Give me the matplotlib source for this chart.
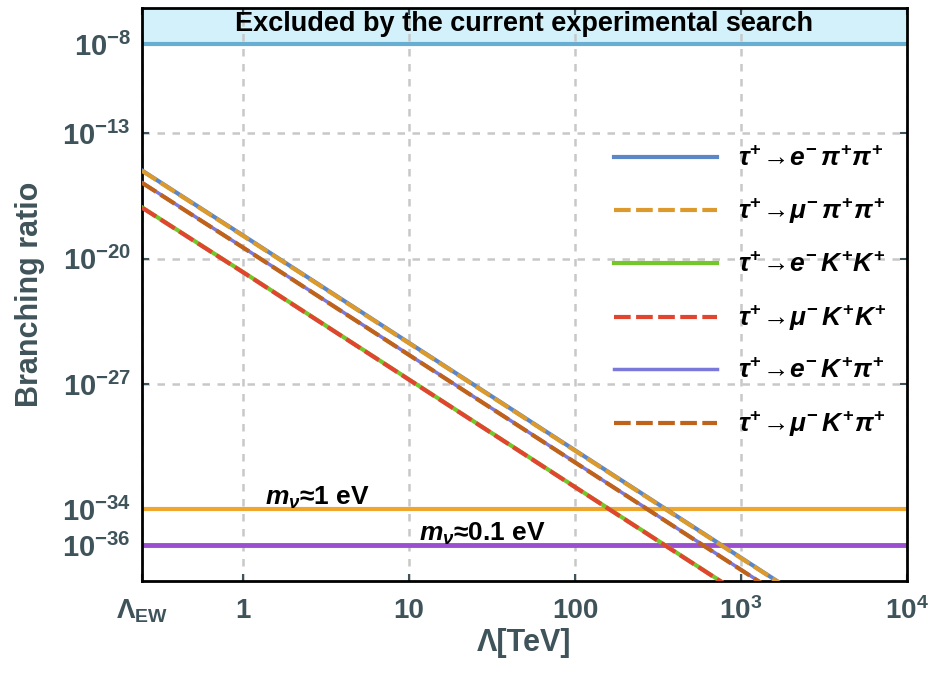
import matplotlib
matplotlib.use("Agg")
import matplotlib.pyplot as plt
from matplotlib.ticker import NullLocator

plt.rcParams['font.family'] = ['Liberation Sans', 'DejaVu Sans']
plt.rcParams['mathtext.fontset'] = 'custom'
plt.rcParams['mathtext.rm'] = 'Liberation Sans:bold'
plt.rcParams['mathtext.bf'] = 'Liberation Sans:bold'
plt.rcParams['mathtext.it'] = 'Liberation Sans:italic:bold'
plt.rcParams['mathtext.sf'] = 'Liberation Sans:bold'

# data (straight lines on log-log)
lam = [0.246, 1, 10, 100, 1000, 2000]
br_e_pipi = [8.5e-16, 2.0e-19, 2.0e-25, 2.0e-31, 2.0e-37, 3.1e-39]
br_mu_pipi = [8.2e-16, 1.9e-19, 1.9e-25, 1.9e-31, 1.9e-37, 3.0e-39]
br_e_kk = [7.4e-18, 1.8e-21, 1.8e-27, 1.8e-33, 1.8e-39, 2.8e-41]
br_mu_kk = [7.2e-18, 1.75e-21, 1.75e-27, 1.75e-33, 1.75e-39, 2.7e-41]
br_e_kpi = [1.8e-16, 4.3e-20, 4.3e-26, 4.3e-32, 4.3e-38, 6.7e-40]
br_mu_kpi = [1.75e-16, 4.2e-20, 4.2e-26, 4.2e-32, 4.2e-38, 6.5e-40]

labels = [r'$\tau^{+}\!\rightarrow\! e^{-}\,\pi^{+}\pi^{+}$',
          r'$\tau^{+}\!\rightarrow\! \mu^{-}\,\pi^{+}\pi^{+}$',
          r'$\tau^{+}\!\rightarrow\! e^{-}\,K^{+}K^{+}$',
          r'$\tau^{+}\!\rightarrow\! \mu^{-}\,K^{+}K^{+}$',
          r'$\tau^{+}\!\rightarrow\! e^{-}\,K^{+}\pi^{+}$',
          r'$\tau^{+}\!\rightarrow\! \mu^{-}\,K^{+}\pi^{+}$']
colors = ['#5b87c8', '#dc9a2c', '#74c62a', '#e2452f', '#7a78d8', '#bf621a']
series = [br_e_pipi, br_mu_pipi, br_e_kk, br_mu_kk, br_e_kpi, br_mu_kpi]

excluded = 1e-8
bound_1ev = 1e-34
bound_01ev = 1e-36

xticks = [0.246, 1, 10, 100, 1000, 10000]
xticklabels = [r'$\Lambda_{\mathrm{EW}}$', '1', '10', '100', r'$10^3$', r'$10^4$']
yticks = [1e-8, 1e-13, 1e-20, 1e-27, 1e-34, 1e-36]
yticklabels = [r'$10^{-8}$', r'$10^{-13}$', r'$10^{-20}$', r'$10^{-27}$',
               r'$10^{-34}$', r'$10^{-36}$']

gray = '#3f535a'

fig = plt.figure(figsize=(9.43, 6.76), dpi=100)
ax = fig.add_axes([0.1506, 0.1405, 0.8112, 0.8475])
ax.set_xscale('log')
ax.set_yscale('log')
ax.set_xlim(0.246, 10000)
ax.set_ylim(1e-38, 1e-6)

# excluded band
ax.axhspan(excluded, 1e-6, color='#d3f1fb', zorder=0)
ax.axhline(excluded, color='#67aed2', lw=3, zorder=2)
ax.text(0.5, 0.972, 'Excluded by the current experimental search',
        transform=ax.transAxes, ha='center', va='center',
        fontsize=19.5, fontweight='bold', color='black')

ax.axhline(bound_1ev, color='#eea62c', lw=3, zorder=2)
ax.axhline(bound_01ev, color='#9a4fd0', lw=3.5, zorder=2)
ax.text(1.35, 1.8e-34, r'$m_\nu$≈1 eV', fontsize=19, fontweight='bold')
ax.text(11.5, 1.8e-36, r'$m_\nu$≈0.1 eV', fontsize=19, fontweight='bold')

for i, (y, lab, c) in enumerate(zip(series, labels, colors)):
    if i % 2 == 0:
        ax.plot(lam, y, color=c, lw=3 if i != 4 else 2.5, label=lab, zorder=3)
    else:
        ax.plot(lam, y, color=c, lw=3, ls=(0, (4, 1.3)), label=lab, zorder=4)

ax.set_xticks(xticks)
ax.set_xticklabels(xticklabels, fontsize=20, fontweight='bold')
ax.set_yticks(yticks)
ax.set_yticklabels(yticklabels, fontsize=21)
ax.xaxis.set_minor_locator(NullLocator())
ax.yaxis.set_minor_locator(NullLocator())
ax.tick_params(direction='in', length=5, width=1.5, top=True, right=True,
               labelcolor=gray, color=gray)
ax.tick_params(axis='x', pad=12)
ax.tick_params(axis='y', pad=8)
ax.grid(True, color='#c8c8c8', lw=1.8, ls=(0, (3, 3)), zorder=1)
for s in ax.spines.values():
    s.set_linewidth(2)
    s.set_color('black')

ax.set_xlabel('Λ[TeV]', fontsize=22, fontweight='bold', color=gray, labelpad=2)
ax.set_ylabel('Branching ratio', fontsize=22, fontweight='bold', color=gray, labelpad=12)

leg = ax.legend(loc='upper right', bbox_to_anchor=(1.005, 0.80), frameon=False,
                handlelength=3.9, handletextpad=0.8, labelspacing=1.0,
                prop={'size': 19})

fig.savefig('out.png', dpi=100)
